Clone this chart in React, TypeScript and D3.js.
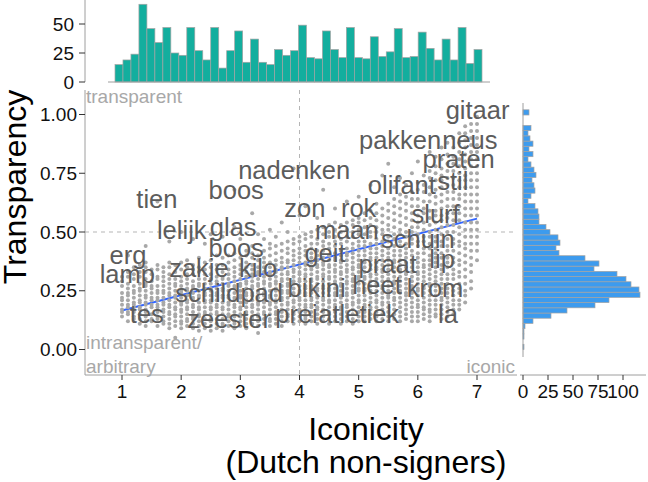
import React from 'react';
import * as d3 from 'd3';

// marginal histogram of iconicity (46 bins from 1 to 7)
const iconicityCounts = [15, 19, 24, 67, 46, 34, 47, 25, 23, 47, 27, 19, 47, 12, 27, 44, 17, 37, 17, 15,
  28, 23, 27, 49, 21, 20, 44, 28, 21, 47, 21, 20, 39, 22, 26, 46, 21, 22, 43, 29,
  19, 37, 19, 47, 16, 28];
// marginal histogram of transparency (46 bins from 0 to 1.02), low to high
const transparencyCounts = [1, 0, 1, 1, 2, 10, 28, 44, 72, 86, 117, 116, 108, 103, 94, 71, 76, 62, 36, 33,
  37, 35, 27, 23, 16, 16, 15, 12, 5, 8, 12, 11, 9, 13, 11, 8, 5, 10, 6, 10,
  7, 5, 8, 0, 0, 6];

// scatter: iconicity value -> transparency values (hundredths)
const pointColumns: [number, string][] = [
  [1.0, '14 16 17 19 21 22 24 27 29 31'],
  [1.1, '12 15 16 18 19 21 23 24 26 28 31 33 40'],
  [1.2, '13 14 16 18 19 20 22 24 25 27 30 32 35'],
  [1.3, '11 13 15 17 18 20 21 23 25 26 28 31 33 36'],
  [1.4, '10 12 14 16 17 19 20 22 23 25 27 28 30 33 35 37 44'],
  [1.5, '12 13 15 18 19 21 22 24 26 27 29 32 34'],
  [1.6, '10 13 14 16 18 19 21 22 24 25 27 30 31 34 36 63'],
  [1.7, '11 12 14 16 17 19 20 22 24 25 27 29 31 33 35'],
  [1.8, '9 11 13 15 16 18 19 21 23 24 26 28 30 32 35 37 46'],
  [1.9, '5 10 12 14 15 17 18 20 22 23 25 27 28 30 33 36'],
  [2.0, '9 11 12 14 16 17 19 20 22 24 25 27 29 31 34 37 50'],
  [2.1, '10 12 13 15 17 18 20 21 23 25 26 28 30 32 35 38'],
  [2.2, '9 11 13 14 16 18 19 21 22 24 26 27 29 32 34 36 47'],
  [2.3, '8 10 12 14 15 17 18 20 22 23 25 27 28 30 33 35 39'],
  [2.4, '9 11 13 15 16 18 20 21 23 24 26 28 30 32 34 37 45'],
  [2.5, '8 10 12 13 15 17 18 20 21 23 25 26 28 30 32 35 38 49'],
  [2.6, '9 11 13 15 16 18 19 21 23 24 26 28 29 31 34 36 40'],
  [2.7, '8 10 11 13 15 17 18 20 22 23 25 26 28 30 31 33 36 39 48'],
  [2.8, '10 12 14 15 17 19 20 22 23 25 27 28 30 32 34 37 40'],
  [2.9, '9 11 12 14 16 18 19 21 22 24 26 27 29 31 33 35 38 41 52 68'],
  [3.0, '10 12 14 15 17 18 20 22 23 25 27 28 30 32 34 36 39 47'],
  [3.1, '9 11 13 15 16 18 20 21 23 24 26 28 29 31 33 35 37 40 42'],
  [3.2, '11 13 14 16 18 19 21 23 24 26 27 29 31 32 34 36 39 41 44 58'],
  [3.3, '7 10 12 14 15 17 19 20 22 24 25 27 28 30 32 33 35 38 40 49'],
  [3.4, '11 13 15 16 18 20 21 23 24 26 28 29 31 33 35 37 39 42 47'],
  [3.5, '10 12 13 15 17 19 20 22 23 25 27 28 30 32 33 35 37 40 43 45 51'],
  [3.6, '11 13 15 16 18 20 21 23 25 26 28 29 31 33 34 36 38 41 44 48'],
  [3.7, '10 12 14 16 17 19 21 22 24 25 27 29 30 32 34 35 37 39 42 45 54'],
  [3.8, '12 14 15 17 19 20 22 24 25 27 28 30 32 33 35 37 38 41 43 46 50'],
  [3.9, '11 13 15 16 18 20 21 23 24 26 28 29 31 33 34 36 38 40 42 45 47 77'],
  [4.0, '12 14 16 17 19 21 22 24 25 27 29 30 32 33 35 37 39 41 43 46 48 57'],
  [4.1, '11 13 14 16 18 19 21 23 24 26 27 29 31 32 34 36 37 40 42 44 47 49 61'],
  [4.2, '12 14 16 18 19 21 22 24 26 27 29 30 32 34 35 37 39 41 43 45 48 50'],
  [4.3, '11 13 15 17 18 20 22 23 25 26 28 30 31 33 35 36 38 40 42 45 47 51 56'],
  [4.4, '12 14 16 17 19 21 22 24 26 27 29 31 32 34 36 37 39 42 44 46 49 52 68'],
  [4.5, '11 13 15 16 18 20 21 23 25 26 28 30 31 33 35 36 38 40 43 45 48 50 53'],
  [4.6, '12 14 16 18 19 21 23 24 26 28 29 31 33 34 36 38 39 41 44 46 48 51 54 60'],
  [4.7, '11 13 15 17 18 20 22 23 25 27 28 30 32 33 35 37 38 40 42 45 47 50 53'],
  [4.8, '12 14 16 18 19 21 23 24 26 28 29 31 33 34 36 38 40 41 43 46 48 51 54 63'],
  [4.9, '11 13 15 17 19 20 22 24 25 27 29 30 32 34 35 37 39 41 43 45 48 50 53 55'],
  [5.0, '12 14 16 18 20 21 23 25 26 28 30 31 33 35 36 38 40 42 44 46 49 51 54 56 65'],
  [5.1, '12 14 16 18 19 21 23 25 26 28 30 31 33 35 37 38 40 42 44 46 49 52 55 58'],
  [5.2, '13 15 17 18 20 22 24 25 27 29 31 32 34 36 38 39 41 43 45 48 50 53 56 59 70'],
  [5.3, '12 14 16 18 20 21 23 25 27 28 30 32 34 35 37 39 41 43 45 47 50 52 55 58 62'],
  [5.4, '13 15 17 19 20 22 24 26 27 29 31 33 34 36 38 40 42 44 46 49 51 54 57 60 74'],
  [5.5, '12 14 16 18 20 22 23 25 27 29 30 32 34 36 38 39 41 43 46 48 51 53 56 59 62 79'],
  [5.6, '13 15 17 19 21 22 24 26 28 29 31 33 35 37 38 40 42 44 47 49 52 55 58 61 64 69'],
  [5.7, '12 14 16 18 20 22 24 25 27 29 31 33 34 36 38 40 42 44 46 49 51 54 57 60 63 66 73'],
  [5.8, '13 15 17 19 21 23 24 26 28 30 32 33 35 37 39 41 43 45 48 50 53 56 59 62 65 70'],
  [5.9, '12 14 16 18 20 22 24 26 27 29 31 33 35 37 38 40 42 45 47 50 52 55 58 61 64 67 75'],
  [6.0, '12 14 16 18 19 21 23 25 26 28 30 32 33 35 37 39 41 44 46 49 52 54 57 61 64 68 71 80'],
  [6.1, '13 15 17 18 20 22 24 26 27 29 31 33 35 36 38 41 43 46 48 51 54 58 60 63 67 70 74'],
  [6.2, '12 14 16 17 19 21 23 25 27 28 30 32 34 36 38 40 43 45 48 50 53 56 59 63 66 69 73 76 84'],
  [6.3, '14 15 17 19 21 23 25 27 29 31 33 35 37 39 41 43 46 48 51 54 57 59 62 65 68 72 75 78 82'],
  [6.4, '13 15 17 19 21 22 24 26 28 30 32 34 36 39 41 44 46 49 52 55 57 60 63 66 69 72 74 77 81 86'],
  [6.5, '14 16 18 20 22 24 26 28 30 32 35 37 39 42 44 47 50 53 56 58 61 64 67 70 73 76 79 83 88'],
  [6.6, '15 17 19 21 23 25 27 30 32 34 37 39 42 45 47 50 53 55 58 61 64 67 70 73 76 79 82 86 90'],
  [6.7, '17 19 21 24 26 28 31 33 36 38 41 44 46 49 52 55 58 61 64 66 69 72 75 78 81 84 88 92'],
  [6.8, '20 23 25 28 31 34 37 40 43 45 48 51 54 57 60 63 66 69 72 74 77 80 83 86 89 92 95'],
  [6.9, '26 29 33 36 39 42 45 48 51 54 57 60 63 66 69 72 75 78 81 84 87 90 93 96'],
  [7.0, '38 42 45 48 51 54 57 60 63 66 69 72 75 78 81 84 87 90 93 96 99'],
];

const words = ['gitaar', 'pakken', 'neus', 'praten', 'stil', 'olifant', 'nadenken', 'boos', 'tien',
  'zon', 'rok', 'slurf', 'lelijk', 'glas', 'maan', 'schuin', 'boos', 'erg', 'geit', 'praat', 'lip',
  'lamp', 'zakje', 'kilo', 'schildpad', 'bikini', 'heet', 'krom', 'tes', 'zeester', 'prei', 'atletiek', 'la'];
const wordIconicity = [7.01, 5.70, 6.88, 6.69, 6.59, 5.73, 3.91, 2.93, 1.59,
  4.09, 5.0, 6.30, 2.01, 2.88, 4.80, 6.0, 2.93, 1.10, 4.43, 5.49, 6.41,
  1.09, 2.30, 3.30, 2.81, 4.29, 5.31, 6.29, 1.42, 2.81, 3.95, 5.0, 6.51];
const wordTransparency = [1.02, 0.89, 0.89, 0.81, 0.715, 0.70, 0.765, 0.68, 0.64,
  0.60, 0.60, 0.575, 0.51, 0.52, 0.51, 0.47, 0.43, 0.40, 0.41, 0.365, 0.385,
  0.32, 0.345, 0.345, 0.24, 0.26, 0.275, 0.26, 0.15, 0.13, 0.15, 0.15, 0.15];

const fitIconicity = [1, 7];
const fitTransparency = [0.166, 0.557];

const xTicks = [1, 2, 3, 4, 5, 6, 7];
const yTicks = [0, 0.25, 0.5, 0.75, 1];
const topTicks = [0, 25, 50];
const rightTicks = [0, 25, 50, 75, 100];

const FONT = 'Liberation Sans, Arial, sans-serif';

export default function App() {
  const width = 648;
  const height = 482;
  const panel = { left: 85, right: 517, top: 90, bottom: 375 };

  const x = d3.scaleLinear().domain([1, 7]).range([122, 477]);
  const y = d3.scaleLinear().domain([0, 1]).range([349.5, 114.5]);

  // top marginal
  const iconStep = 6 / (iconicityCounts.length - 1);
  const topX = d3.scaleLinear().domain([1 - iconStep / 2, 7 + iconStep / 2]).range([115, 482]);
  const topY = d3.scaleLinear().domain([0, 50]).range([82, 24]);

  // right marginal
  const transMax = 1.02;
  const transStep = transMax / transparencyCounts.length;
  const rightX = d3.scaleLinear().domain([0, 100]).range([523, 623]);

  const points = pointColumns.flatMap(([ic, vals]) =>
    vals.split(' ').map((v) => ({ ic, tr: +v / 100 })));

  const line = d3.line<number>()
    .x((_, i) => x(fitIconicity[i]))
    .y((d) => y(d));

  const tickColor = '#333';
  const axisColor = '#9e9e9e';
  const noteColor = '#a8a8a8';

  return (
    <svg width={width} height={height} style={{ position: 'fixed', left: 0, top: 0, background: '#fff' }}
      fontFamily={FONT}>
      {/* top histogram */}
      <g>
        {iconicityCounts.map((c, i) => {
          const x0 = topX(1 - iconStep / 2 + i * iconStep);
          const x1 = topX(1 - iconStep / 2 + (i + 1) * iconStep);
          return <rect key={i} x={x0} y={topY(c)} width={x1 - x0} height={topY(0) - topY(c)}
            fill="#13ae9e" stroke="#a3a3a3" strokeWidth={0.7} />;
        })}
        <line x1={topX.range()[0] - 7} x2={topX.range()[1] + 8} y1={topY(0)} y2={topY(0)} stroke={axisColor} />
        <line x1={panel.left} x2={panel.left} y1={0} y2={topY(0)} stroke={axisColor} />
        {topTicks.map((t) => (
          <g key={t}>
            <line x1={panel.left - 6} x2={panel.left} y1={topY(t)} y2={topY(t)} stroke={tickColor} />
            <text x={panel.left - 11} y={topY(t)} dy="0.35em" textAnchor="end" fontSize={19} fill="#111">{t}</text>
          </g>
        ))}
      </g>

      {/* right histogram */}
      <g>
        {transparencyCounts.map((c, i) => c > 0 ? (
          <rect key={i} x={rightX(0)} y={y((i + 1) * transStep)} width={rightX(c) - rightX(0)}
            height={y(i * transStep) - y((i + 1) * transStep)}
            fill="#3d9bee" stroke="#a3a3a3" strokeWidth={0.7} />
        ) : null)}
        <line x1={rightX(0)} x2={rightX(0)} y1={103} y2={357} stroke={axisColor} />
        <line x1={rightX(0) - 3} x2={width - 2} y1={panel.bottom} y2={panel.bottom} stroke={axisColor} />
        {rightTicks.map((t) => (
          <g key={t}>
            <line x1={rightX(t)} x2={rightX(t)} y1={panel.bottom} y2={panel.bottom + 5} stroke={tickColor} />
            <text x={rightX(t)} y={398} textAnchor="middle" fontSize={19} fill="#111">{t}</text>
          </g>
        ))}
      </g>

      {/* main panel */}
      <g>
        <line x1={x(4)} x2={x(4)} y1={panel.top} y2={panel.bottom} stroke="#b5b5b5" strokeDasharray="4,4" />
        <line x1={panel.left} x2={513} y1={y(0.5)} y2={y(0.5)} stroke="#b5b5b5" strokeDasharray="4,4" />
        <path d={line(fitTransparency) ?? ''} fill="none" stroke="#3366ff" strokeWidth={2} />
        {points.map((p, i) => (
          <circle key={i} cx={x(p.ic)} cy={y(p.tr)} r={2} fill="#a8a8a8" />
        ))}
        {words.map((w, i) => (
          <text key={i} x={x(wordIconicity[i])} y={y(wordTransparency[i])} dy="0.35em" textAnchor="middle"
            fontSize={25.5} fill="#5c5c5c">{w}</text>
        ))}
        <text x={panel.left + 1} y={103} fontSize={19} fill={noteColor}>transparent</text>
        <text x={panel.left + 1} y={349} fontSize={19} fill={noteColor}>intransparent/</text>
        <text x={panel.left + 1} y={373} fontSize={19} fill={noteColor}>arbitrary</text>
        <text x={515} y={373} textAnchor="end" fontSize={19} fill={noteColor}>iconic</text>

        <line x1={panel.left} x2={panel.left} y1={panel.top} y2={panel.bottom} stroke={axisColor} />
        <line x1={panel.left} x2={panel.right} y1={panel.bottom} y2={panel.bottom} stroke={axisColor} />
        {xTicks.map((t) => (
          <g key={t}>
            <line x1={x(t)} x2={x(t)} y1={panel.bottom} y2={panel.bottom + 5} stroke={tickColor} />
            <text x={x(t)} y={398} textAnchor="middle" fontSize={19} fill="#111">{t}</text>
          </g>
        ))}
        {yTicks.map((t) => (
          <g key={t}>
            <line x1={panel.left - 6} x2={panel.left} y1={y(t)} y2={y(t)} stroke={tickColor} />
            <text x={panel.left - 8} y={y(t)} dy="0.35em" textAnchor="end" fontSize={19} fill="#111">{t.toFixed(2)}</text>
          </g>
        ))}
      </g>

      {/* axis titles */}
      <text transform="translate(26,187) rotate(-90)" textAnchor="middle" fontSize={32} fill="#000">Transparency</text>
      <text x={366} y={440} textAnchor="middle" fontSize={32} fill="#000">Iconicity</text>
      <text x={366} y={473} textAnchor="middle" fontSize={32} fill="#000">(Dutch non-signers)</text>
    </svg>
  );
}
